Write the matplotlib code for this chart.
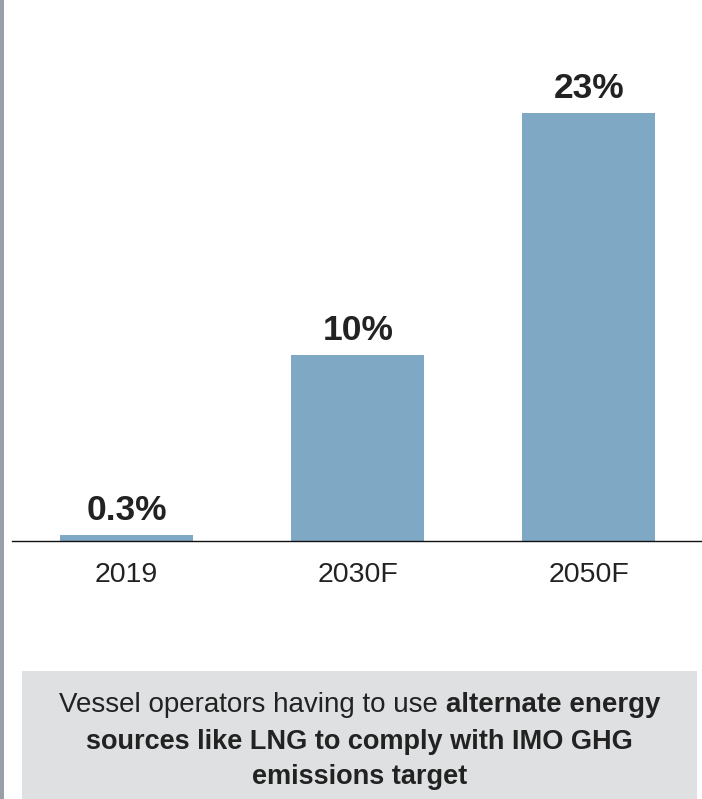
import matplotlib
matplotlib.use("Agg")
import matplotlib.pyplot as plt
from matplotlib.patches import Rectangle

plt.rcParams['font.family'] = ['Liberation Sans Narrow', 'Liberation Sans', 'DejaVu Sans']

# share of fleet running on alternate fuels
years = ["2019", "2030F", "2050F"]
shares = [0.3, 10, 23]
labels = ["0.3%", "10%", "23%"]

bar_color = "#7fa8c4"
text_color = "#222222"

W, H = 702, 799
fig = plt.figure(figsize=(W / 100, H / 100), dpi=100)

# gray strip down the left edge
fig.patches.append(Rectangle((0, 0), 4 / W, 1, transform=fig.transFigure,
                             facecolor="#9a9ea6", edgecolor="none"))

ax = fig.add_axes([12 / W, 258 / H, 690 / W, 541 / H])
x = range(len(years))
ax.bar(x, shares, width=0.576, color=bar_color)
ax.set_xlim(-0.496, 2.49)
ax.set_ylim(0, 29.1)

for i, (v, lab) in enumerate(zip(shares, labels)):
    ax.annotate(lab, (i, v), xytext=(0, 6), textcoords="offset points",
                ha="center", va="bottom", fontsize=25.5, fontweight="bold",
                color=text_color)

ax.set_xticks(list(x))
ax.set_xticklabels(years, fontsize=20.5, color=text_color)
ax.tick_params(axis="x", length=0, pad=15)
ax.set_yticks([])
for side in ["top", "right", "left"]:
    ax.spines[side].set_visible(False)
ax.spines["bottom"].set_color("#111111")
ax.spines["bottom"].set_linewidth(1.0)

# caption box
fig.patches.append(Rectangle((22 / W, 0), 675 / W, 128 / H, transform=fig.transFigure,
                             facecolor="#dfe0e2", edgecolor="none"))

cx = (22 + 697) / 2 / W
fig.canvas.draw()
renderer = fig.canvas.get_renderer()

y1 = 1 - 705 / H
part_a = fig.text(0, y1, "Vessel operators having to use ", fontsize=20,
                  color=text_color, va="center", ha="left")
part_b = fig.text(0, y1, "alternate energy", fontsize=20, fontweight="bold",
                  color=text_color, va="center", ha="left")
wa = part_a.get_window_extent(renderer).width / W
wb = part_b.get_window_extent(renderer).width / W
start = cx - (wa + wb) / 2
part_a.set_x(start)
part_b.set_x(start + wa)

fig.text(cx, 1 - 742 / H, "sources like LNG to comply with IMO GHG", fontsize=19.5,
         fontweight="bold", color=text_color, ha="center", va="center")
fig.text(cx, 1 - 777 / H, "emissions target", fontsize=19.5,
         fontweight="bold", color=text_color, ha="center", va="center")

fig.savefig("out.png", dpi=100)
